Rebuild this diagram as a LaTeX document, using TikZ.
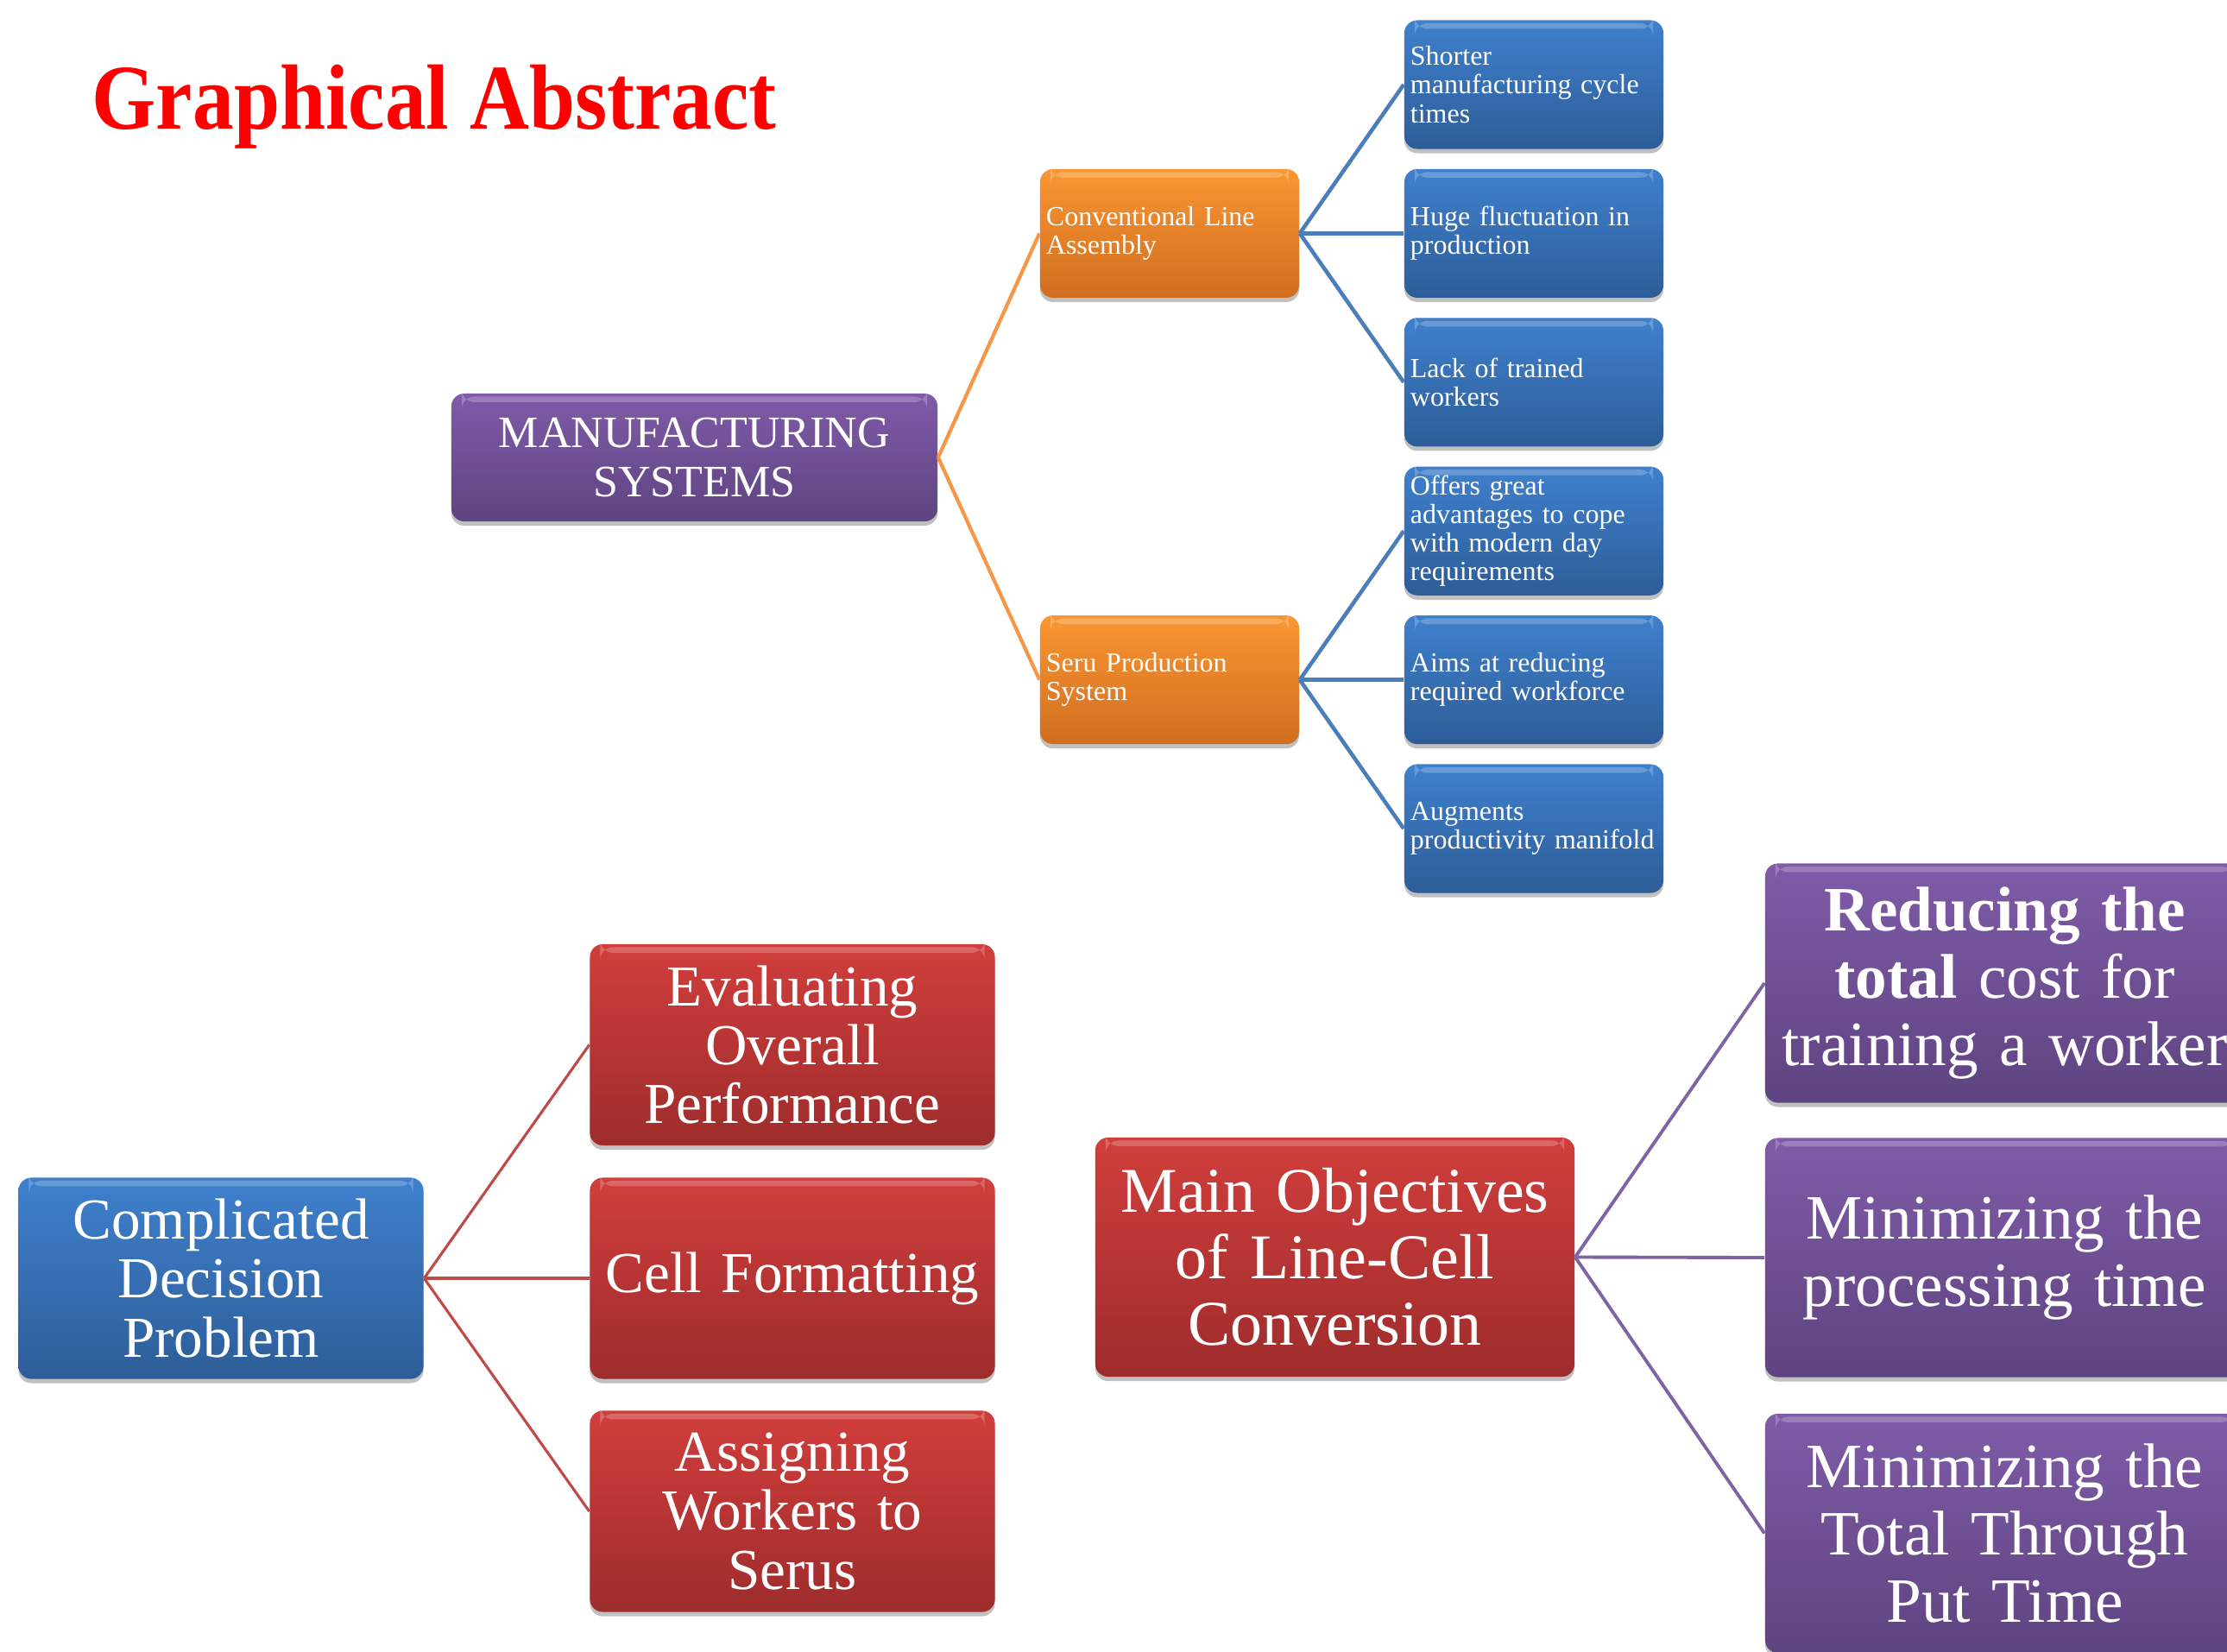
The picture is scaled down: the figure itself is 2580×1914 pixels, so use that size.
\documentclass[tikz,border=0pt]{standalone}
\usepackage{fontspec}
\setmainfont{Liberation Serif}
\usetikzlibrary{shadows}
\definecolor{bluetop}{RGB}{63,128,205}
\definecolor{bluebot}{RGB}{45,93,152}
\definecolor{orgtop}{RGB}{250,150,50}
\definecolor{orgbot}{RGB}{208,110,32}
\definecolor{redtop}{RGB}{208,62,60}
\definecolor{redbot}{RGB}{158,44,44}
\definecolor{purtop}{RGB}{127,91,168}
\definecolor{purbot}{RGB}{94,68,128}
\definecolor{bluecon}{RGB}{74,126,187}
\definecolor{orgcon}{RGB}{247,150,70}
\definecolor{redcon}{RGB}{190,75,72}
\definecolor{purcon}{RGB}{128,100,162}
\definecolor{titlered}{RGB}{255,0,0}
\tikzset{
  basebox/.style={rounded corners=0.15cm, inner sep=0pt, text=white,
    drop shadow={shadow xshift=0cm, shadow yshift=-0.05cm, opacity=0.35, fill=black!70},
    path picture={\fill[white,opacity=0.22] ([xshift=0.12cm,yshift=-0.035cm]path picture bounding box.north west) rectangle ([xshift=-0.12cm,yshift=-0.1cm]path picture bounding box.north east);}},
  bluefill/.style={top color=bluetop, bottom color=bluebot},
  orgfill/.style={top color=orgtop, bottom color=orgbot},
  redfill/.style={top color=redtop, bottom color=redbot},
  purfill/.style={top color=purtop, bottom color=purbot},
  smallbox/.style={basebox, minimum width=3cm, minimum height=1.49cm, text width=2.86cm, align=left,
    font=\fontsize{9.1pt}{9.4pt}\selectfont},
  mfgbox/.style={basebox, purfill, minimum width=5.63cm, minimum height=1.48cm, text width=5.4cm, align=center,
    font=\fontsize{14.8pt}{16.2pt}\selectfont},
  midbox/.style={basebox, minimum width=4.69cm, minimum height=2.33cm, text width=4.5cm, align=center,
    font=\fontsize{19.1pt}{19.4pt}\selectfont},
  bigbox/.style={basebox, minimum width=5.55cm, minimum height=2.77cm, text width=5.4cm, align=center,
    font=\fontsize{20.8pt}{22.1pt}\selectfont},
  conblue/.style={draw=bluecon, line width=1.3pt},
  conorg/.style={draw=orgcon, line width=1.2pt},
  conred/.style={draw=redcon, line width=0.9pt},
  conpur/.style={draw=purcon, line width=1.1pt},
}
\begin{document}
\begin{tikzpicture}[x=0.01cm, y=-0.01cm]
\useasboundingbox (0,0) rectangle (2580,1914);
\clip (0,0) rectangle (2580,1914);
\fill[white] (0,0) rectangle (2580,1914);

% title
\node[anchor=base west, inner sep=0pt, text=titlered, font=\fontsize{30.5pt}{32pt}\selectfont\bfseries] (title) at (106,149) {\scalebox{0.89}[1]{Graphical Abstract}};

% top tree
\node[mfgbox] (mfg) at (804.5,530) {MANUFACTURING\\SYSTEMS};
\node[smallbox, orgfill] (conv) at (1355,270.4) {Conventional Line\\Assembly};
\node[smallbox, orgfill] (seru) at (1355,787.6) {Seru Production\\System};

\node[smallbox, bluefill] (b1) at (1777,98) {Shorter\\manufacturing cycle\\times};
\node[smallbox, bluefill] (b2) at (1777,270.4) {Huge fluctuation in\\production};
\node[smallbox, bluefill] (b3) at (1777,442.8) {Lack of trained\\workers};
\node[smallbox, bluefill] (b4) at (1777,615.2) {Offers great\\advantages to cope\\with modern day\\requirements};
\node[smallbox, bluefill] (b5) at (1777,787.6) {Aims at reducing\\required workforce};
\node[smallbox, bluefill] (b6) at (1777,960) {Augments\\productivity manifold};

\draw[conorg] (mfg.east) -- (conv.west);
\draw[conorg] (mfg.east) -- (seru.west);
\draw[conblue] (conv.east) -- (b1.west);
\draw[conblue] (conv.east) -- (b2.west);
\draw[conblue] (conv.east) -- (b3.west);
\draw[conblue] (seru.east) -- (b4.west);
\draw[conblue] (seru.east) -- (b5.west);
\draw[conblue] (seru.east) -- (b6.west);

% bottom left tree
\node[midbox, bluefill] (cdp) at (256,1481) {Complicated\\Decision\\Problem};
\node[midbox, redfill] (r1) at (918,1210.5) {Evaluating\\Overall\\Performance};
\node[midbox, redfill] (r2) at (918,1481) {Cell Formatting};
\node[midbox, redfill] (r3) at (918,1751) {Assigning\\Workers to\\Serus};
\draw[conred] (cdp.east) -- (r1.west);
\draw[conred] (cdp.east) -- (r2.west);
\draw[conred] (cdp.east) -- (r3.west);

% bottom right tree
\node[bigbox, redfill, font=\fontsize{21pt}{21.9pt}\selectfont] (mo) at (1546.5,1456.5) {Main Objectives\\of Line-Cell\\Conversion};
\node[bigbox, purfill] (p1) at (2322.5,1139) {{\bfseries Reducing the}\\{\bfseries total} cost for\\training a worker};
\node[bigbox, purfill] (p2) at (2322.5,1457) {Minimizing the\\processing time};
\node[bigbox, purfill] (p3) at (2322.5,1776.5) {Minimizing the\\Total Through\\Put Time};
\draw[conpur] (mo.east) -- (p1.west);
\draw[conpur] (mo.east) -- (p2.west);
\draw[conpur] (mo.east) -- (p3.west);
\end{tikzpicture}
\end{document}
